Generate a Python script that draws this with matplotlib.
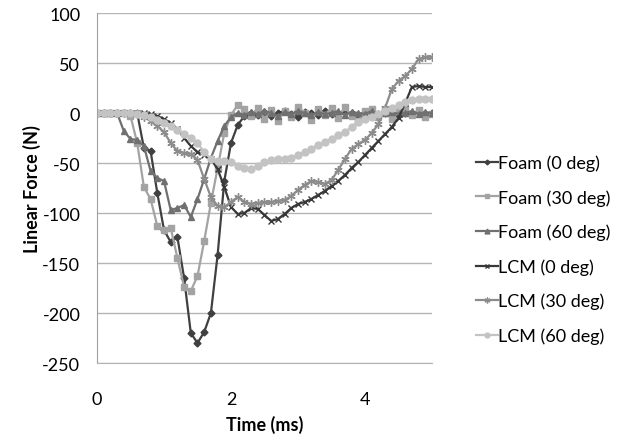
import matplotlib
matplotlib.use("Agg")
import matplotlib.pyplot as plt
import numpy as np

plt.rcParams['font.family'] = ['Lato', 'DejaVu Sans']
plt.rcParams['axes.unicode_minus'] = False

# time in ms, one sample every 0.1 ms
time_ms = [round(i * 0.1, 1) for i in range(51)]

foam_0 = [0, 0, 0, 0, 0, 0, 0,
          -35, -38, -80, -117, -129, -124, -165, -220, -230, -219, -200, -142, -68, -30, -12, -3,
          0, -2, 1, -3, 0, 2, -1, -4, 1, 0, -2, 2, -1, -3, 1, 0, -2, 1, 2, -1, 0, -3, 1, 0, -1, 2, -1, 0]
foam_30 = [0, 0, 0, 0, 0, -3,
           -30, -74, -86, -113, -117, -115, -145, -174, -178, -163, -128, -90, -55, -20, -2, 8,
           4, -3, 5, -6, 3, -8, 2, -4, 6, 0, -7, 4, -2, 5, -5, 6, -3, -8, 2, 4, -4, 3, -6, 2, 5, -2, 3, -4, -1]
foam_60 = [0, 0, 0, 0,
           -18, -26, -27, -33, -58, -65, -68, -97, -95, -92, -104, -86, -66, -45, -28, -13, -4, 0,
           -2, 1, -1, 2, 0, -3, 1, -1, 2, 0, -2, 1, -1, 0, 2, -2, 1, 0, -1, 2, -2, 0, 1, -1, 0, 2, -1, 1, 0]
lcm_0 = [0, 0, 0, 0, 0, 0, 0, 0,
         -1, -3, -6, -10, -16, -25, -33, -39, -42, -46, -56, -74, -94, -101, -100, -95, -96, -102,
         -108, -106, -101, -95, -91, -89, -86, -82, -78, -73, -68, -62, -55, -49, -42, -35, -28,
         -21, -14, -5, 10, 26, 27, 26, 26]
lcm_30 = [0, 0, 0, 0, 0, 0,
          -1, -4, -8, -13, -19, -30, -38, -40, -41, -47, -66, -84, -93, -94, -89, -84, -89, -91,
          -90, -89, -89, -88, -87, -83, -77, -72, -68, -69, -71, -67, -57, -46, -36, -31, -27,
          -20, -11, 5, 24, 32, 37, 44, 54, 56, 56]
lcm_60 = [0, 0, 0, 0, 0, 0,
          -1, -2, -4, -7, -10, -13, -17, -21, -25, -30, -39, -46, -48, -48, -49, -53, -55, -56,
          -53, -49, -47, -46, -46, -45, -42, -39, -36, -32, -29, -26, -22, -19, -14, -9, -6,
          -4, -1, 2, 5, 8, 11, 13, 14, 14, 14]

series = [
    ("Foam (0 deg)", foam_0, "#404040", "D", 3.5),
    ("Foam (30 deg)", foam_30, "#a3a3a3", "s", 5),
    ("Foam (60 deg)", foam_60, "#707070", "^", 5),
    ("LCM (0 deg)", lcm_0, "#383838", "x", 5),
    ("LCM (30 deg)", lcm_30, "#8c8c8c", (6, 2, 0), 6),
    ("LCM (60 deg)", lcm_60, "#c3c3c3", "o", 5),
]

fig = plt.figure(figsize=(6.27, 4.39), dpi=100)
ax = fig.add_axes([0.1547, 0.1708, 0.5343, 0.7973])

for label, vals, col, mk, ms in series:
    ax.plot(time_ms, vals, color=col, marker=mk, markersize=ms, lw=1.6,
            markeredgewidth=1, label=label)

ax.set_xlim(0, 5)
ax.set_ylim(-250, 100)
ax.set_xticks([0, 2, 4])
ax.set_yticks(np.arange(-250, 101, 50))
ax.yaxis.grid(True, color="#b5b5b5", lw=1)
ax.set_axisbelow(True)
for s in ["top", "right"]:
    ax.spines[s].set_visible(False)
ax.spines["left"].set_color("#a0a0a0")
ax.spines["bottom"].set_color("#b5b5b5")
ax.tick_params(axis="both", length=0, labelsize=13, colors="#000000")
ax.tick_params(axis="x", pad=20)
ax.tick_params(axis="y", pad=12)

ax.set_xlabel("Time (ms)", fontsize=13, fontweight="bold", labelpad=6)
ax.set_ylabel("Linear Force (N)", fontsize=13, fontweight="bold", labelpad=1)

fig.legend(loc="center left", bbox_to_anchor=(0.733, 0.43), frameon=False,
           fontsize=13, handlelength=1.2, handletextpad=0.0, labelspacing=1.0,
           markerscale=0.7)

fig.savefig("out.png", dpi=100)
